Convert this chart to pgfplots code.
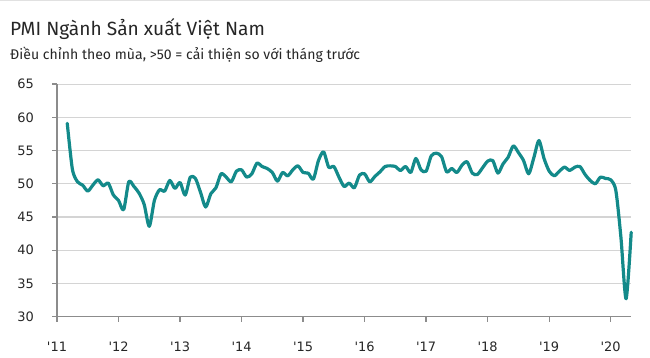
\documentclass[border=0pt]{standalone}
\usepackage{fontspec}
\setmainfont{Fira Sans}
\newfontfamily\tickfont{DejaVu Sans}
\usepackage{pgfplots}
\pgfplotsset{compat=1.18}
\definecolor{pmiline}{HTML}{138A8A}
\definecolor{axisgray}{HTML}{8C8C8C}
\definecolor{gridgray}{HTML}{D4D4D4}
\newcommand{\yr}[1]{{\tickfont\fontsize{13}{15}\selectfont\textquotesingle #1}}
\pgfplotstableread{
k v
2 59.1
3 52.2
4 50.3
5 49.8
6 48.9
7 49.8
8 50.6
9 49.7
10 50.1
11 48.3
12 47.5
13 46.1
14 50.3
15 49.6
16 48.6
17 46.9
18 43.6
19 47.5
20 49.1
21 48.9
22 50.5
23 49.3
24 50.2
25 48.3
26 51.0
27 50.8
28 48.7
29 46.5
30 48.5
31 49.4
32 51.5
33 51.0
34 50.3
35 51.9
36 52.1
37 51.0
38 51.5
39 53.1
40 52.6
41 52.3
42 51.7
43 50.4
44 51.7
45 51.2
46 52.1
47 52.7
48 51.7
49 51.6
50 50.7
51 53.5
52 54.8
53 52.5
54 52.6
55 51.0
56 49.6
57 50.1
58 49.4
59 51.3
60 51.5
61 50.3
62 51.1
63 51.8
64 52.6
65 52.7
66 52.6
67 52.0
68 52.6
69 51.7
70 53.8
71 52.1
72 51.9
73 54.2
74 54.6
75 54.1
76 51.8
77 52.3
78 51.7
79 52.8
80 53.3
81 51.6
82 51.4
83 52.4
84 53.4
85 53.5
86 51.6
87 53.0
88 54.0
89 55.7
90 54.7
91 53.5
92 51.5
93 53.9
94 56.5
95 53.8
96 51.9
97 51.2
98 51.9
99 52.5
100 52.0
101 52.5
102 52.6
103 51.4
104 50.5
105 50.0
106 51.0
107 50.8
108 50.6
109 49.0
110 41.9
111 32.7
112 42.7
}\pmidata
\begin{document}
\begin{tikzpicture}
\path[use as bounding box] (0bp,0bp) rectangle (650bp,358bp);
\draw[gridgray!70, line width=1.5bp] (0bp,357.25bp) -- (650bp,357.25bp);
\node[anchor=base west, inner sep=0pt, font=\fontsize{19.2}{23}\selectfont, text=black!85] at (10bp,322bp) {PMI Ngành Sản xuất Việt Nam};
\node[anchor=base west, inner sep=0pt, font=\fontsize{14.1}{17}\selectfont, text=black!85] at (10bp,298bp) {Điều chỉnh theo mùa, >50 = cải thiện so với tháng trước};
\begin{axis}[
  at={(57bp,41.3bp)}, anchor=south west,
  width=574.2bp, height=232.6bp, scale only axis,
  xmin=0, xmax=112, ymin=30, ymax=65,
  axis lines*=left,
  axis line style={axisgray, line width=1.3bp},
  xtick={0,12,...,108},
  xticklabels={\yr{11},\yr{12},\yr{13},\yr{14},\yr{15},\yr{16},\yr{17},\yr{18},\yr{19},\yr{20}},
  ytick={30,35,...,65},
  yticklabel={{\tickfont\fontsize{13}{15}\selectfont\pgfmathprintnumber{\tick}}},
  ymajorgrids,
  major grid style={gridgray, line width=1.2bp},
  tick align=outside,
  major tick length=5bp,
  tick style={axisgray, line width=1.3bp},
  /pgf/number format/assume math mode=true,
  tick label style={font=\tickfont\fontsize{13}{15}\selectfont, text=black!85, inner sep=0pt},
  xticklabel style={anchor=base, yshift=-29.3bp},
  yticklabel style={anchor=east, xshift=-18bp},
  clip=false,
]
\addplot[pmiline, line width=3.2bp, smooth, tension=0.45, line join=round, line cap=round] table[x=k, y=v] {\pmidata};
\end{axis}
\end{tikzpicture}
\end{document}
